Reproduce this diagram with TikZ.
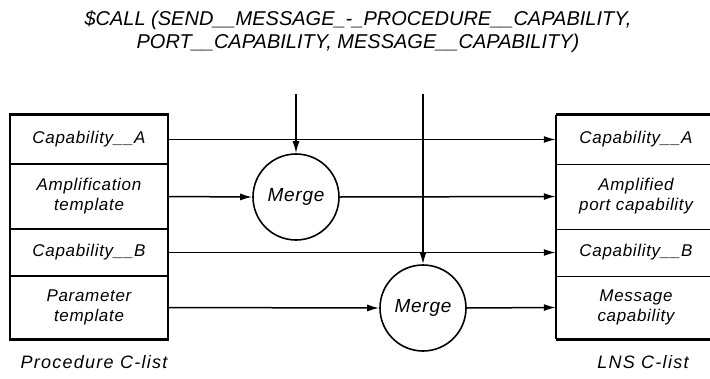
\documentclass[tikz,border=0pt]{standalone}
\usepackage{fontspec}
\setmainfont{Liberation Sans}
\newfontfamily\cellfont[LetterSpace=4]{Liberation Sans}
\newfontfamily\capfont[LetterSpace=7]{Liberation Sans}
\usetikzlibrary{arrows.meta}
\begin{document}
\begin{tikzpicture}[x=1pt,y=-1pt,
  rule/.style={line width=1.4pt},
  frame/.style={line width=3pt},
  flow/.style={line width=1.5pt,-{Latex[length=12pt,width=7pt]}},
  cell/.style={rectangle,inner sep=0pt,minimum width=158pt,align=center,
               font=\fontsize{17}{20}\selectfont\cellfont\itshape},
  lcell/.style={cell,draw,rule},
  rcell/.style={cell,minimum width=160pt},
  merge/.style={circle,draw,line width=1.6pt,minimum size=86pt,inner sep=0pt,
                font=\fontsize{19}{21}\selectfont\cellfont\itshape},
  caption/.style={inner sep=0pt,anchor=base,font=\fontsize{18}{20}\selectfont\capfont\itshape},
]
\useasboundingbox (0,0) rectangle (710,378);

% call statement
\node[inner sep=0pt,align=center,font=\fontsize{20}{23}\selectfont\itshape] (title) at (358,31.5)
  {\$CALL (SEND\_\_MESSAGE\_-\_PROCEDURE\_\_CAPABILITY,\\PORT\_\_CAPABILITY, MESSAGE\_\_CAPABILITY)};

% procedure C-list
\node[lcell,minimum height=49pt] (pa) at (89,139.5) {Capability\_\_A};
\node[lcell,minimum height=65pt] (pb) at (89,196.5) {Amplification\\template};
\node[lcell,minimum height=47pt] (pc) at (89,252.5) {Capability\_\_B};
\node[lcell,minimum height=63pt] (pd) at (89,307.5) {Parameter\\template};
\draw[frame] (pa.north west) -- (pa.north east);
\draw[frame] (pd.south west) -- (pd.south east);
\node[caption] (plabel) at (94,368) {Procedure C-list};

% LNS C-list (runs off the right edge)
\coordinate (edge) at (710,0);
\node[rcell,minimum height=49pt] (ra) at (636,139.5) {Capability\_\_A};
\node[rcell,minimum height=65pt] (rb) at (636,196.5) {Amplified\\port capability};
\node[rcell,minimum height=47pt] (rc) at (636,252.5) {Capability\_\_B};
\node[rcell,minimum height=63pt] (rd) at (636,307.5) {Message\\capability};
\draw[rule] (ra.north west) -- (rd.south west);
\draw[rule] (ra.south west) -- (ra.south west -| edge);
\draw[rule] (rb.south west) -- (rb.south west -| edge);
\draw[rule] (rc.south west) -- (rc.south west -| edge);
\draw[frame] (ra.north west) -- (ra.north west -| edge);
\draw[frame] (rd.south west) -- (rd.south west -| edge);
\node[caption] (rlabel) at (643,368) {LNS C-list};

% merge operations
\node[merge] (m1) at (296,197) {Merge};
\node[merge] (m2) at (423,308) {Merge};
\coordinate (in1) at (296,94);
\coordinate (in2) at (423,94);

% data flow
\draw[flow] (pa.east) -- (ra.west);
\draw[flow] (pb.east) -- (m1.west);
\draw[flow] (m1.east) -- (rb.west);
\draw[flow] (pc.east) -- (rc.west);
\draw[flow] (pd.east) -- (m2.west);
\draw[flow] (m2.east) -- (rd.west);
\draw[flow] (in1) -- (m1.north);
\draw[flow] (in2) -- (m2.north);
\end{tikzpicture}
\end{document}
